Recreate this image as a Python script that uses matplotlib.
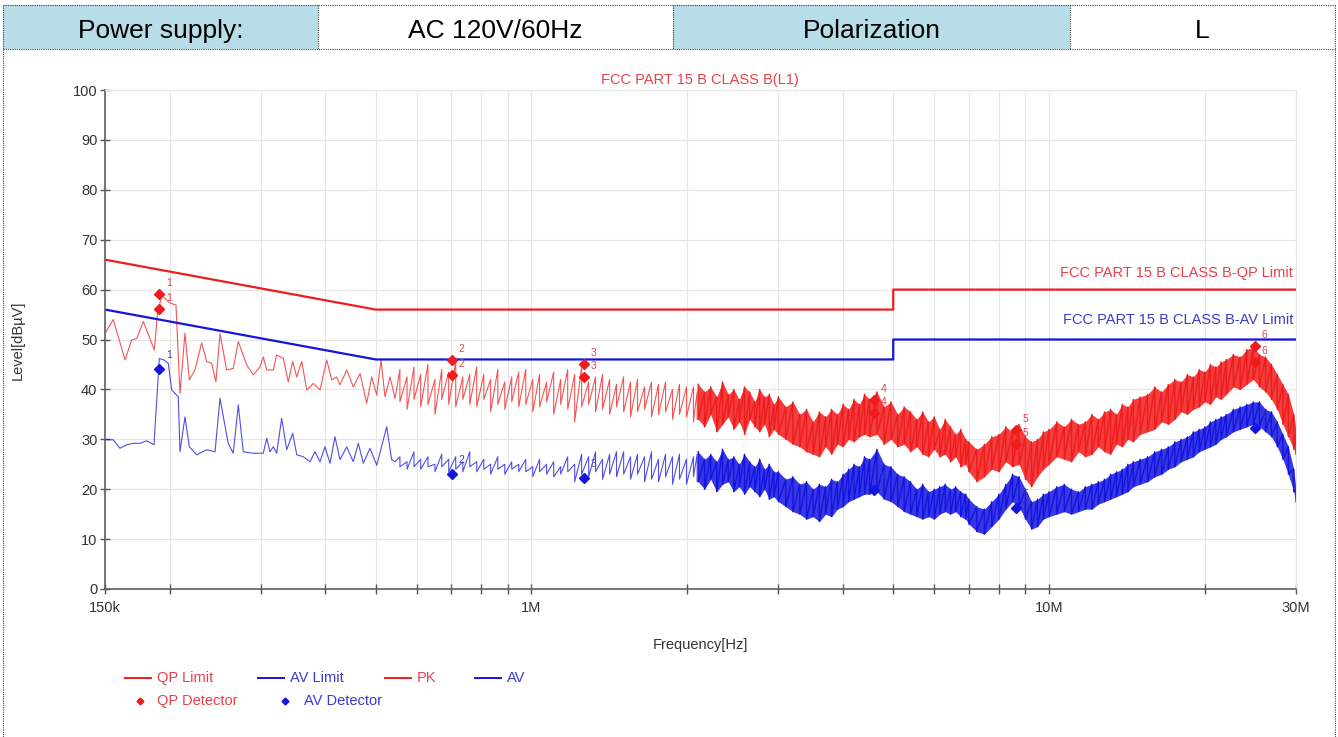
import numpy as np
import matplotlib
matplotlib.use("Agg")
import matplotlib.pyplot as plt
from matplotlib.lines import Line2D
from matplotlib.patches import Rectangle
from matplotlib.ticker import NullLocator

W, H = 1338, 737
plt.rcParams['font.family'] = ['Liberation Sans', 'DejaVu Sans']

RED = '#f01c1c'
BLUE = '#1414e0'
TXT_RED = '#e8404a'
TXT_BLUE = '#3a3acc'
FS = 10.5

# header row
header_cells = ['Power supply:', 'AC 120V/60Hz', 'Polarization', 'L']
header_fill = ['#b7dde8', 'white', '#b7dde8', 'white']
header_edges = [3, 318, 673, 1070, 1335]

# limit lines (MHz, dBuV)
qp_limit_f = [0.15, 0.5, 5.0, 5.0, 30.0]
qp_limit = [66, 56, 56, 60, 60]
av_limit_f = [0.15, 0.5, 5.0, 5.0, 30.0]
av_limit = [56, 46, 46, 50, 50]

# PK trace, 150k - 550k (read point by point)
pk_f_low = [0.150, 0.1556, 0.164, 0.1689, 0.1727, 0.1779, 0.1868, 0.1893, 0.193, 0.1974,
            0.2003, 0.2057, 0.2094, 0.2141, 0.2183, 0.2238, 0.2306, 0.2358, 0.2411, 0.2457,
            0.2502, 0.2577, 0.2654, 0.2714, 0.2817, 0.2901, 0.2989, 0.3033, 0.308, 0.3172,
            0.3219, 0.3316, 0.339, 0.3457, 0.352, 0.3599, 0.368, 0.3789, 0.3904, 0.4022,
            0.4112, 0.4205, 0.4267, 0.4396, 0.4527, 0.4665, 0.4805, 0.4914, 0.5024, 0.5121,
            0.5213, 0.5331, 0.5451]
pk_low = [51.2, 54.0, 45.9, 49.9, 50.2, 53.6, 47.9, 54.9, 58.9, 57.9,
          57.3, 56.9, 39.2, 51.3, 41.9, 43.9, 49.3, 45.6, 45.2, 41.5,
          51.2, 43.9, 44.2, 49.6, 44.9, 42.9, 44.5, 46.5, 43.9, 43.9,
          46.9, 46.2, 41.5, 45.6, 42.5, 45.6, 39.9, 41.2, 39.9, 45.9,
          41.9, 42.5, 40.9, 43.9, 40.5, 43.2, 37.2, 42.5, 38.9, 45.9,
          38.5, 42.5, 38.2]

# AV trace, 150k - 550k
av_f_low = [0.1503, 0.1556, 0.1603, 0.1652, 0.1701, 0.1753, 0.1806, 0.1865, 0.191, 0.195,
            0.1988, 0.2018, 0.2078, 0.2094, 0.2141, 0.2183, 0.2255, 0.2358, 0.2447, 0.2502,
            0.2595, 0.2654, 0.2714, 0.2775, 0.2901, 0.3033, 0.308, 0.3125, 0.3172, 0.3219,
            0.3292, 0.3366, 0.3457, 0.352, 0.3625, 0.3734, 0.3818, 0.3904, 0.3991, 0.4081,
            0.4173, 0.4267, 0.4396, 0.4527, 0.4629, 0.4733, 0.4876, 0.5024, 0.5252, 0.537,
            0.5451]
av_low = [29.9, 29.9, 28.2, 28.9, 29.2, 29.2, 29.7, 28.9, 46.2, 45.9,
          45.2, 39.9, 38.5, 27.5, 34.5, 28.5, 26.9, 27.9, 27.5, 38.2,
          29.2, 27.2, 36.9, 27.5, 27.2, 27.2, 30.2, 27.5, 28.5, 27.2,
          34.2, 27.9, 31.2, 26.9, 26.5, 25.5, 27.5, 25.5, 28.5, 25.2,
          30.5, 25.9, 28.5, 25.5, 29.2, 25.2, 28.2, 24.8, 32.5, 25.9,
          25.5]

# 0.55 - 2.1 MHz: spike top / bottom at each sweep point
mid_f = [0.557, 0.575, 0.593, 0.611, 0.631, 0.651, 0.671, 0.692, 0.714, 0.737,
         0.760, 0.784, 0.809, 0.834, 0.861, 0.888, 0.916, 0.945, 0.975, 1.006,
         1.037, 1.070, 1.104, 1.139, 1.175, 1.212, 1.250, 1.290, 1.330, 1.372,
         1.416, 1.460, 1.507, 1.554, 1.603, 1.654, 1.706, 1.760, 1.816, 1.873,
         1.932, 1.993, 2.056, 2.090]
pk_mid_hi = [44.0, 42.5, 44.5, 43.0, 45.0, 42.0, 44.0, 43.5, 45.5, 42.5,
             43.0, 44.5, 43.0, 42.0, 44.0, 41.5, 42.5, 43.5, 44.0, 42.0,
             43.0, 41.5, 43.5, 42.0, 44.0, 43.0, 44.5, 41.5, 42.5, 43.0,
             42.0, 41.0, 42.5, 41.5, 42.0, 40.5, 41.5, 41.0, 41.5, 40.0,
             41.0, 40.5, 40.5, 39.5]
pk_mid_lo = [37.5, 36.0, 38.0, 36.5, 37.0, 35.0, 38.0, 37.0, 36.5, 38.0,
             37.0, 36.5, 38.0, 35.5, 37.0, 36.0, 37.5, 36.5, 37.0, 35.5,
             36.5, 37.5, 35.0, 37.0, 36.0, 33.5, 36.5, 37.0, 35.5, 36.0,
             35.0, 36.5, 35.5, 34.5, 35.5, 36.0, 34.5, 35.0, 35.5, 34.0,
             35.0, 34.5, 33.5, 34.0]
av_mid_hi = [26.5, 25.5, 27.5, 26.0, 26.5, 25.0, 27.0, 26.0, 26.5, 25.5,
             27.5, 25.5, 26.0, 25.0, 26.5, 25.0, 25.5, 25.0, 26.0, 24.5,
             26.0, 25.0, 25.5, 24.5, 26.5, 25.0, 27.0, 26.5, 27.5, 26.0,
             27.0, 27.5, 27.5, 26.5, 27.0, 26.5, 27.5, 26.0, 27.0, 26.5,
             27.0, 26.0, 26.5, 27.0]
av_mid_lo = [24.5, 24.0, 24.5, 24.0, 24.5, 23.5, 24.5, 23.5, 24.0, 23.5,
             24.5, 23.5, 24.0, 23.0, 24.0, 23.0, 24.0, 23.5, 23.5, 22.5,
             23.5, 23.0, 22.5, 23.0, 23.5, 21.5, 23.0, 22.5, 23.5, 22.0,
             23.0, 22.5, 23.0, 22.0, 23.0, 21.5, 22.0, 21.5, 22.5, 21.0,
             22.0, 21.0, 22.5, 21.5]

# 2.1 - 30 MHz: dense sweep, spike top / bottom
band_f = [2.10, 2.16, 2.22, 2.28, 2.34, 2.40, 2.46, 2.52, 2.58, 2.64, 2.70, 2.76, 2.82, 2.88, 2.94,
          3.0, 3.1, 3.2, 3.3, 3.4, 3.5, 3.6, 3.7, 3.8, 3.9, 4.0, 4.1, 4.2, 4.3, 4.4,
          4.5, 4.65, 4.8, 4.95, 5.1, 5.25, 5.4, 5.55, 5.7, 5.85, 6.0, 6.15, 6.3, 6.45, 6.6, 6.75, 6.9,
          7.0, 7.25, 7.5, 7.75, 8.0, 8.25, 8.5, 8.75, 9.0, 9.25, 9.5, 9.75,
          10.0, 10.35, 10.7, 11.05, 11.4, 11.75, 12.1, 12.45, 12.8, 13.15, 13.5, 13.85, 14.2, 14.55,
          15.0, 15.5, 16.0, 16.5, 17.0, 17.5, 18.0, 18.5, 19.0, 19.5, 20.0, 20.5, 21.0, 21.5,
          22.0, 22.7, 23.4, 24.1, 24.8, 25.5, 26.2, 26.9, 27.6, 28.3, 29.0, 29.7, 30.0]
pk_hi = [41.0, 39.5, 40.5, 38.5, 41.5, 39.0, 40.0, 38.0, 40.5, 39.5, 37.5, 40.0, 38.5, 39.0, 37.0,
         38.5, 36.5, 37.5, 35.0, 36.0, 33.5, 35.5, 34.5, 36.0, 35.0, 37.0, 36.0, 38.0, 37.0, 39.0,
         38.0, 39.5, 36.5, 37.5, 35.0, 36.5, 35.5, 34.0, 35.5, 33.5, 34.5, 32.0, 34.0, 32.5, 31.0, 32.0, 30.0,
         29.5, 28.0, 29.0, 30.5, 31.0, 32.5, 31.5, 33.0, 30.5, 29.5, 30.0, 31.5,
         32.0, 33.5, 32.5, 34.0, 33.0, 33.5, 35.0, 34.0, 35.5, 36.0, 35.0, 37.0, 36.5, 38.0,
         38.5, 39.0, 40.5, 39.5, 41.0, 42.0, 41.5, 43.0, 42.5, 44.0, 43.5, 45.0, 44.5, 45.5,
         46.0, 47.0, 46.5, 48.0, 48.5, 47.0, 46.5, 45.0, 43.0, 41.0, 39.0, 35.0, 32.0]
pk_lo = [34.0, 32.5, 35.0, 31.5, 33.0, 34.5, 32.0, 33.5, 31.0, 34.0, 32.5, 31.5, 33.0, 30.5, 32.0,
         31.0, 30.0, 29.0, 28.5, 27.5, 27.0, 26.5, 28.5, 27.0, 29.0, 28.5, 30.0, 29.5, 30.5, 31.0,
         30.5, 31.0, 29.0, 30.0, 28.5, 29.0, 27.5, 28.5, 27.0, 26.5, 28.0, 26.5, 27.0, 25.5, 26.5, 24.5, 25.0,
         23.5, 21.5, 22.5, 24.0, 23.5, 25.5, 24.5, 25.0, 22.0, 20.5, 22.5, 24.0,
         25.0, 26.5, 26.0, 25.5, 27.5, 26.5, 27.0, 28.5, 27.5, 27.0, 29.0, 28.5, 30.0, 29.5,
         31.0, 31.5, 32.0, 33.5, 33.0, 34.0, 35.5, 35.0, 36.0, 36.5, 37.5, 37.0, 38.5, 38.0,
         39.0, 40.5, 40.0, 41.0, 42.0, 40.5, 39.5, 38.0, 36.0, 33.0, 30.5, 28.0, 27.0]
av_hi = [27.5, 26.0, 27.0, 25.5, 28.0, 26.0, 26.5, 25.0, 27.0, 25.5, 24.5, 26.0, 24.0, 25.0, 23.5,
         23.5, 22.0, 22.5, 21.0, 21.5, 20.0, 21.0, 20.5, 22.0, 21.5, 23.0, 24.0, 25.0, 24.5, 26.5,
         26.0, 28.0, 25.0, 24.5, 23.0, 22.5, 21.5, 20.0, 21.0, 19.5, 20.0, 20.5, 21.0, 20.0, 20.5, 19.5, 19.0,
         18.0, 16.5, 16.0, 17.5, 19.0, 21.0, 23.0, 22.5, 20.0, 17.5, 18.0, 19.0,
         19.5, 20.5, 21.0, 20.0, 19.5, 20.5, 21.0, 21.5, 22.0, 23.0, 23.5, 24.0, 25.0, 25.5,
         26.0, 26.5, 27.5, 28.0, 28.5, 29.5, 30.0, 30.5, 31.5, 32.0, 32.5, 33.5, 34.0, 34.5,
         35.0, 36.0, 36.5, 37.0, 37.5, 37.5, 36.0, 35.5, 33.5, 31.0, 28.5, 24.0, 20.0]
av_lo = [21.5, 20.0, 22.0, 19.5, 21.0, 21.5, 19.5, 20.5, 19.0, 20.5, 19.5, 18.5, 20.0, 18.0, 18.5,
         17.5, 16.5, 15.5, 15.0, 14.0, 14.5, 13.5, 15.0, 14.5, 16.0, 16.5, 17.5, 18.0, 18.5, 19.0,
         19.0, 19.5, 18.0, 17.5, 16.5, 15.5, 15.0, 14.5, 14.0, 14.5, 14.0, 15.0, 15.5, 15.0, 15.5, 14.5, 14.0,
         13.0, 11.5, 11.0, 12.5, 14.0, 16.0, 17.5, 16.5, 14.0, 12.0, 12.5, 14.0,
         14.5, 15.0, 15.5, 15.0, 15.5, 16.0, 16.0, 17.0, 17.5, 18.0, 18.5, 19.0, 19.5, 20.5,
         21.0, 21.5, 22.5, 23.0, 24.0, 24.5, 25.5, 26.0, 26.5, 27.5, 28.0, 28.5, 29.0, 30.0,
         30.5, 31.5, 32.0, 32.5, 33.0, 32.5, 31.5, 30.5, 28.5, 26.0, 23.0, 19.5, 17.5]

# final measurement points
mk_no = ['1', '2', '3', '4', '5', '6']
mk_f = [0.1907, 0.702, 1.263, 4.589, 8.63, 24.99]
qp_det_1 = [59.1, 45.9, 45.0, 37.8, 31.8, 48.7]
qp_det_2 = [56.1, 42.9, 42.5, 35.2, 29.0, 45.5]
av_det = [44.1, 23.0, 22.2, 19.8, 16.2, 32.3]

grid_f = [0.15, 0.2, 0.3, 0.4, 0.5, 0.6, 0.7, 0.8, 0.9, 1, 2, 3, 4, 5, 6, 7, 8, 9, 10, 20, 30]
grid_lbl = ['150k', '', '', '', '', '', '', '', '', '1M', '', '', '', '', '', '', '', '', '10M', '', '30M']


def fx(x):
    return x / W


def fy(y):
    return 1 - y / H


def spikes(f, hi, lo):
    # each sweep point drawn as a top->bottom stroke
    return np.repeat(f, 2), np.column_stack([hi, lo]).ravel()


fig = plt.figure(figsize=(W / 100, H / 100), dpi=100)

# header table
for i in range(4):
    x0, x1 = header_edges[i], header_edges[i + 1]
    fig.add_artist(Rectangle((fx(x0), fy(49)), fx(x1) - fx(x0), fy(5) - fy(49),
                             transform=fig.transFigure, facecolor=header_fill[i], edgecolor='none'))
    fig.text(fx((x0 + x1) / 2), fy(31), header_cells[i], fontsize=19, ha='center', va='center')
dot = dict(color='#444444', lw=0.8, linestyle=(0, (1, 1)), transform=fig.transFigure)
fig.add_artist(Line2D([fx(3), fx(1335)], [fy(5), fy(5)], **dot))
fig.add_artist(Line2D([fx(3), fx(1335)], [fy(49), fy(49)], **dot))
for xe in header_edges:
    fig.add_artist(Line2D([fx(xe), fx(xe)], [fy(5), fy(49)], **dot))
fig.add_artist(Line2D([fx(3), fx(3)], [fy(49), fy(737)], **dot))
fig.add_artist(Line2D([fx(1335), fx(1335)], [fy(49), fy(737)], **dot))

ax = fig.add_axes([fx(105), fy(589), fx(1296) - fx(105), fy(90) - fy(589)])
ax.set_xscale('log')
ax.set_xlim(0.15, 30)
ax.set_ylim(0, 100)
ax.xaxis.set_minor_locator(NullLocator())
ax.set_xticks(grid_f, grid_lbl)
ax.set_yticks(range(0, 101, 10))
ax.grid(True, color='#e6e6e6', lw=0.8)
ax.set_axisbelow(True)
ax.tick_params(direction='inout', length=7, width=1, color='#555555', labelsize=FS,
               labelcolor='#333333')
ax.tick_params(axis='x', pad=5)
ax.tick_params(axis='y', pad=2)
for s in ['left', 'bottom']:
    ax.spines[s].set_color('#606060')
    ax.spines[s].set_linewidth(1.2)
for s in ['top', 'right']:
    ax.spines[s].set_color('#e6e6e6')

# traces
ax.fill_between(band_f, av_lo, av_hi, color=BLUE, alpha=0.85, lw=0)
ax.fill_between(band_f, pk_lo, pk_hi, color=RED, alpha=0.85, lw=0)
mx, pk_my = spikes(mid_f, pk_mid_hi, pk_mid_lo)
bx, pk_by = spikes(band_f, pk_hi, pk_lo)
_, av_my = spikes(mid_f, av_mid_hi, av_mid_lo)
_, av_by = spikes(band_f, av_hi, av_lo)
ax.plot(np.concatenate([av_f_low, mx]), np.concatenate([av_low, av_my]), color=BLUE, lw=0.8, alpha=0.75)
ax.plot(bx, av_by, color=BLUE, lw=1.0)
ax.plot(np.concatenate([pk_f_low, mx]), np.concatenate([pk_low, pk_my]), color=RED, lw=0.8, alpha=0.75)
ax.plot(bx, pk_by, color=RED, lw=1.0)

# limits
ax.plot(qp_limit_f, qp_limit, color=RED, lw=1.6)
ax.plot(av_limit_f, av_limit, color=BLUE, lw=1.6)
ax.text(29.6, 63.3, 'FCC PART 15 B CLASS B-QP Limit', color=TXT_RED, fontsize=FS,
        ha='right', va='center')
ax.text(29.6, 54.0, 'FCC PART 15 B CLASS B-AV Limit', color=TXT_BLUE, fontsize=FS,
        ha='right', va='center')

# detector points
ax.plot(mk_f, qp_det_1, 'D', color=RED, ms=5.5, ls='none')
ax.plot(mk_f, qp_det_2, 'D', color=RED, ms=5.5, ls='none')
ax.plot(mk_f, av_det, 'D', color=BLUE, ms=5.5, ls='none')
for i in range(len(mk_f)):
    for v in (qp_det_1[i], qp_det_2[i]):
        ax.annotate(mk_no[i], (mk_f[i], v), xytext=(5, 6), textcoords='offset points',
                    color=TXT_RED, fontsize=7.5)
    ax.annotate(mk_no[i], (mk_f[i], av_det[i]), xytext=(5, 8), textcoords='offset points',
                color=TXT_BLUE, fontsize=7.5)

fig.text(fx(700), fy(80), 'FCC PART 15 B CLASS B(L1)', color=TXT_RED, fontsize=FS,
         ha='center', va='center')
fig.text(fx(18), fy(340), 'Level[dBµV]', color='#333333', fontsize=FS, rotation=90,
         ha='center', va='center')
fig.text(fx(700), fy(645), 'Frequency[Hz]', color='#333333', fontsize=FS,
         ha='center', va='center')

# legend
leg_lines = [('QP Limit', RED, TXT_RED, 125), ('AV Limit', BLUE, TXT_BLUE, 258),
             ('PK', RED, TXT_RED, 385), ('AV', BLUE, TXT_BLUE, 475)]
for name, c, tc, x0 in leg_lines:
    fig.add_artist(Line2D([fx(x0), fx(x0 + 26)], [fy(678), fy(678)], color=c, lw=1.4,
                          transform=fig.transFigure))
    fig.text(fx(x0 + 32), fy(678), name, color=tc, fontsize=FS, va='center')
leg_pts = [('QP Detector', RED, TXT_RED, 140, 157), ('AV Detector', BLUE, TXT_BLUE, 285, 304)]
for name, c, tc, xm, xt in leg_pts:
    fig.add_artist(Line2D([fx(xm)], [fy(701)], marker='D', color=c, ms=3.5,
                          transform=fig.transFigure))
    fig.text(fx(xt), fy(701), name, color=tc, fontsize=FS, va='center')

fig.savefig('out.png', dpi=100)
